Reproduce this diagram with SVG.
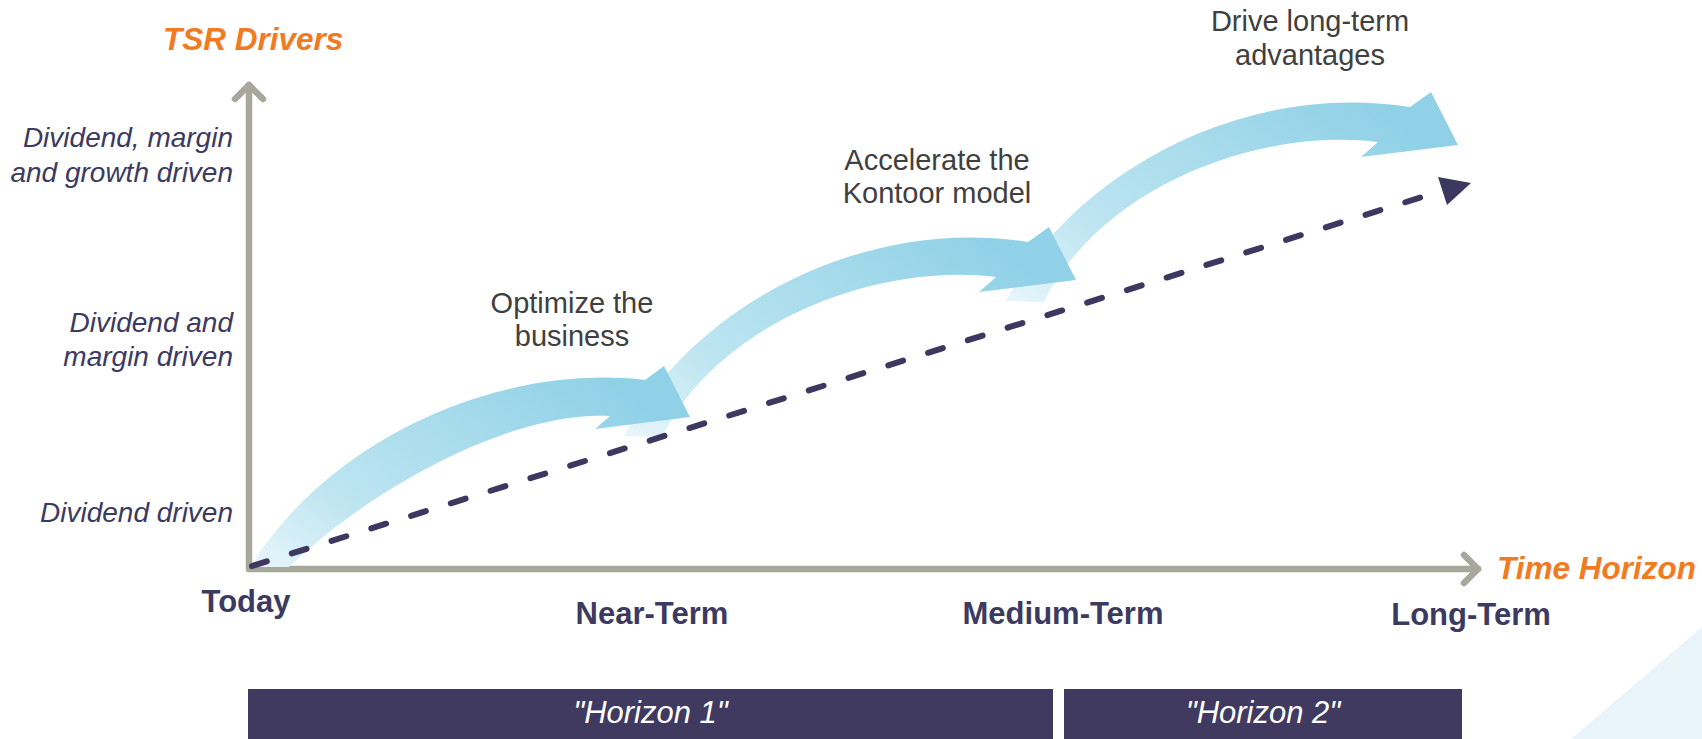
<svg xmlns="http://www.w3.org/2000/svg" xmlns:xlink="http://www.w3.org/1999/xlink" width="1702" height="739" viewBox="0 0 1702 739">
  <style>
    .axis { fill: none; stroke: #A7A79C; stroke-width: 6.5; stroke-linecap: round; stroke-linejoin: round; }
    .ttl { font-family: "Liberation Sans", Arial, sans-serif; font-size: 31.5px; font-weight: bold; font-style: italic; fill: #F07B22; }
    .ylab { font-family: "Liberation Sans", Arial, sans-serif; font-size: 28px; font-style: italic; fill: #3D3A62; text-anchor: end; }
    .xlab { font-family: "Liberation Sans", Arial, sans-serif; font-size: 31px; font-weight: bold; fill: #3D3A62; text-anchor: middle; }
    .act { font-family: "Liberation Sans", Arial, sans-serif; font-size: 29px; fill: #404040; text-anchor: middle; }
    .hz { fill: #403A60; }
    .hzt { font-family: "Liberation Sans", Arial, sans-serif; font-size: 31px; font-style: italic; fill: #FFFFFF; text-anchor: middle; }
    .dash { fill: none; stroke: #3D3860; stroke-width: 6; stroke-linecap: round; stroke-dasharray: 15.5 26.2; }
  </style>
  <defs>
    <linearGradient id="arrowGrad" x1="0" y1="1" x2="1" y2="0.35">
      <stop offset="0" stop-color="#E8F6FB"/>
      <stop offset="0.3" stop-color="#BEE5F1"/>
      <stop offset="1" stop-color="#90D1E7"/>
    </linearGradient>
    <path id="bigArrow" d="M624,436 C690,310 860,215 1028,242 L1049,227 L1076,280 L979,292 L996,277 C880,262 720,320 662,437 Z" fill="url(#arrowGrad)"/>
  </defs>

  <!-- background corner -->
  <polygon points="1702,627 1702,739 1571,739" fill="#EAF4FB"/>

  <!-- axes -->
  <g id="axes">
    <path class="axis" d="M249,85 L249,569 L1478,569" stroke-linecap="butt" stroke-linejoin="miter"/>
    <path class="axis" d="M235,99 L249,85 L263,99"/>
    <path class="axis" d="M1464,555 L1478,569 L1464,583"/>
  </g>

  <!-- curved arrows -->
  <g id="arrow3">
    <use xlink:href="#bigArrow" href="#bigArrow" transform="translate(382,-135)"/>
  </g>
  <g id="arrow2">
    <use xlink:href="#bigArrow" href="#bigArrow"/>
  </g>
  <g id="arrow1">
    <path d="M250,567 C330,438 500,363 645,380 L664,366 L690,417 L595,429 L610,416 C520,410 380,480 289,567 Z" fill="url(#arrowGrad)"/>
  </g>

  <!-- connectors -->
  <g id="connectors">
    <path class="dash" d="M252,566 L1441,191"/>
    <polygon points="1438,177 1447,205 1471,183" fill="#3D3860"/>
  </g>

  <!-- titles -->
  <g id="title-y"><text class="ttl" x="163" y="50">TSR Drivers</text></g>
  <g id="title-x"><text class="ttl" x="1497" y="579">Time Horizon</text></g>

  <!-- y labels -->
  <g id="ylabel-3">
    <text class="ylab" x="233" y="147">Dividend, margin</text>
    <text class="ylab" x="233" y="182">and growth driven</text>
  </g>
  <g id="ylabel-2">
    <text class="ylab" x="233" y="332">Dividend and</text>
    <text class="ylab" x="233" y="366">margin driven</text>
  </g>
  <g id="ylabel-1">
    <text class="ylab" x="233" y="522">Dividend driven</text>
  </g>

  <!-- x labels -->
  <g id="xlabel-today"><text class="xlab" x="246" y="612">Today</text></g>
  <g id="xlabel-near"><text class="xlab" x="652" y="624">Near-Term</text></g>
  <g id="xlabel-medium"><text class="xlab" x="1063" y="624">Medium-Term</text></g>
  <g id="xlabel-long"><text class="xlab" x="1471" y="625">Long-Term</text></g>

  <!-- action labels -->
  <g id="label-optimize">
    <text class="act" x="572" y="313">Optimize the</text>
    <text class="act" x="572" y="346">business</text>
  </g>
  <g id="label-accelerate">
    <text class="act" x="937" y="170">Accelerate the</text>
    <text class="act" x="937" y="203">Kontoor model</text>
  </g>
  <g id="label-drive">
    <text class="act" x="1310" y="31">Drive long-term</text>
    <text class="act" x="1310" y="65">advantages</text>
  </g>

  <!-- horizon bars -->
  <g id="horizon-1">
    <rect class="hz" x="248" y="689" width="805" height="50"/>
    <text class="hzt" x="650.5" y="723">"Horizon 1"</text>
  </g>
  <g id="horizon-2">
    <rect class="hz" x="1064" y="689" width="398" height="50"/>
    <text class="hzt" x="1263" y="723">"Horizon 2"</text>
  </g>
</svg>
